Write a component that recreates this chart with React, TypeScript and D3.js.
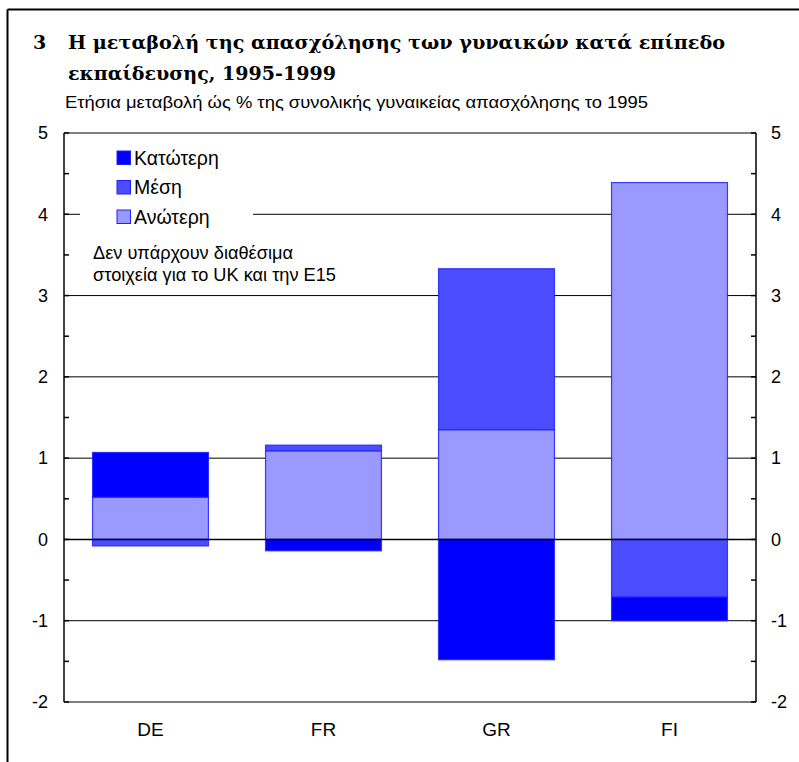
import React from "react";
import * as d3 from "d3";

const categories = ["DE", "FR", "GR", "FI"];
const seriesKeys = ["Ανώτερη", "Μέση", "Κατώτερη"];
const anoteri = [0.52, 1.09, 1.35, 4.39];
const mesi = [-0.08, 0.07, 1.98, -0.71];
const katoteri = [0.55, -0.14, -1.48, -0.29];
const legendKeys = ["Κατώτερη", "Μέση", "Ανώτερη"];
const yTicks = [-2, -1, 0, 1, 2, 3, 4, 5];
const colors: Record<string, string> = {
  "Ανώτερη": "#9999ff",
  "Μέση": "#4c4cff",
  "Κατώτερη": "#0000ff",
};

const W = 799;
const H = 762;
const left = 64;
const right = 756;
const top = 133;
const bottom = 702;

export default function App() {
  const rows = categories.map((c, i) => ({
    cat: c,
    "Ανώτερη": anoteri[i],
    "Μέση": mesi[i],
    "Κατώτερη": katoteri[i],
  }));
  const stack = d3
    .stack<any>()
    .keys(seriesKeys)
    .offset(d3.stackOffsetDiverging);
  const layers = stack(rows);

  const x = d3
    .scaleBand()
    .domain(categories)
    .range([left, right])
    .paddingInner(0.33)
    .paddingOuter(0.165);
  const y = d3.scaleLinear().domain([-2, 5]).range([bottom, top]);
  const minorTicks = d3.range(-2, 5.01, 0.5);

  return (
    <svg
      width={W}
      height={H}
      style={{ position: "absolute", left: 0, top: 0, background: "#fff" }}
    >
      <rect x={0} y={0} width={W} height={H} fill="#fff" />
      {/* frame */}
      <line x1={7.5} x2={W} y1={9.5} y2={9.5} stroke="#000" strokeWidth={2} />
      <line x1={7.5} x2={7.5} y1={9.5} y2={H} stroke="#000" strokeWidth={2} />

      {/* title */}
      <text
        x={33}
        y={49}
        fontFamily="'DejaVu Serif', serif"
        fontWeight="bold"
        fontSize={19}
        fill="#000"
      >
        3
      </text>
      <text
        x={68}
        y={49}
        fontFamily="'DejaVu Serif', serif"
        fontWeight="bold"
        fontSize={19}
        fill="#000"
        textLength={657}
        lengthAdjust="spacingAndGlyphs"
      >
        Η μεταβολή της απασχόλησης των γυναικών κατά επίπεδο
      </text>
      <text
        x={68}
        y={79.5}
        fontFamily="'DejaVu Serif', serif"
        fontWeight="bold"
        fontSize={19}
        fill="#000"
        textLength={268}
        lengthAdjust="spacingAndGlyphs"
      >
        εκπαίδευσης, 1995-1999
      </text>
      <text
        x={65}
        y={107.5}
        fontFamily="'Liberation Sans', Arial, sans-serif"
        fontSize={16}
        fill="#000"
        textLength={583}
        lengthAdjust="spacingAndGlyphs"
      >
        Ετήσια μεταβολή ώς % της συνολικής γυναικείας απασχόλησης το 1995
      </text>

      {/* gridlines */}
      {yTicks
        .filter((t) => t !== 0)
        .map((t) => (
          <line
            key={"g" + t}
            x1={left}
            x2={right}
            y1={y(t)}
            y2={y(t)}
            stroke="#000"
            strokeWidth={1}
          />
        ))}

      {/* legend background */}
      <rect x={80} y={142} width={173} height={88} fill="#fff" />

      {/* bars */}
      {layers.map((layer) => (
        <g key={layer.key}>
          {layer.map((d: any, i: number) => {
            const y0 = y(d[1]);
            const y1 = y(d[0]);
            if (Math.abs(y1 - y0) < 0.01) return null;
            return (
              <rect
                key={i}
                x={x(categories[i])!}
                y={y0}
                width={x.bandwidth()}
                height={y1 - y0}
                fill={colors[layer.key]}
                stroke="#2020ff"
                strokeWidth={1.2}
                strokeOpacity={0.85}
              />
            );
          })}
        </g>
      ))}

      {/* zero line */}
      <line
        x1={left}
        x2={right}
        y1={y(0)}
        y2={y(0)}
        stroke="#000"
        strokeWidth={1.5}
      />

      {/* axes */}
      <line x1={left} x2={left} y1={top} y2={bottom} stroke="#000" strokeWidth={1.5} />
      <line x1={right} x2={right} y1={top} y2={bottom} stroke="#000" strokeWidth={1.5} />
      {minorTicks.map((t) => (
        <g key={"t" + t}>
          <line x1={left} x2={left + 5} y1={y(t)} y2={y(t)} stroke="#000" strokeWidth={1.5} />
          <line x1={right - 5} x2={right} y1={y(t)} y2={y(t)} stroke="#000" strokeWidth={1.5} />
        </g>
      ))}
      {yTicks.map((t) => (
        <g key={"l" + t} fontFamily="'Liberation Sans', Arial, sans-serif" fontSize={18} fill="#000">
          <text x={48} y={y(t)} dy="0.35em" textAnchor="end">
            {t}
          </text>
          <text x={771} y={y(t)} dy="0.35em" textAnchor="start">
            {t}
          </text>
        </g>
      ))}

      {/* category labels */}
      {categories.map((c) => (
        <text
          key={c}
          x={x(c)! + x.bandwidth() / 2}
          y={736}
          textAnchor="middle"
          fontFamily="'Liberation Sans', Arial, sans-serif"
          fontSize={19}
          fill="#000"
        >
          {c}
        </text>
      ))}

      {/* legend */}
      {legendKeys.map((k, i) => (
        <g key={k}>
          <rect
            x={117}
            y={151 + i * 29.5}
            width={13.5}
            height={13.5}
            fill={colors[k]}
            stroke="#2020ff"
            strokeWidth={1}
          />
          <text
            x={134}
            y={158 + i * 29.5}
            dy="0.35em"
            fontFamily="'Liberation Sans', Arial, sans-serif"
            fontSize={19.5}
            fill="#000"
          >
            {k}
          </text>
        </g>
      ))}

      {/* note */}
      <g fontFamily="'Liberation Sans', Arial, sans-serif" fontSize={18.2} fill="#000">
        <text x={93} y={253} dy="0.35em">
          Δεν υπάρχουν διαθέσιμα
        </text>
        <text x={93} y={275} dy="0.35em">
          στοιχεία για το UK και την Ε15
        </text>
      </g>
    </svg>
  );
}
